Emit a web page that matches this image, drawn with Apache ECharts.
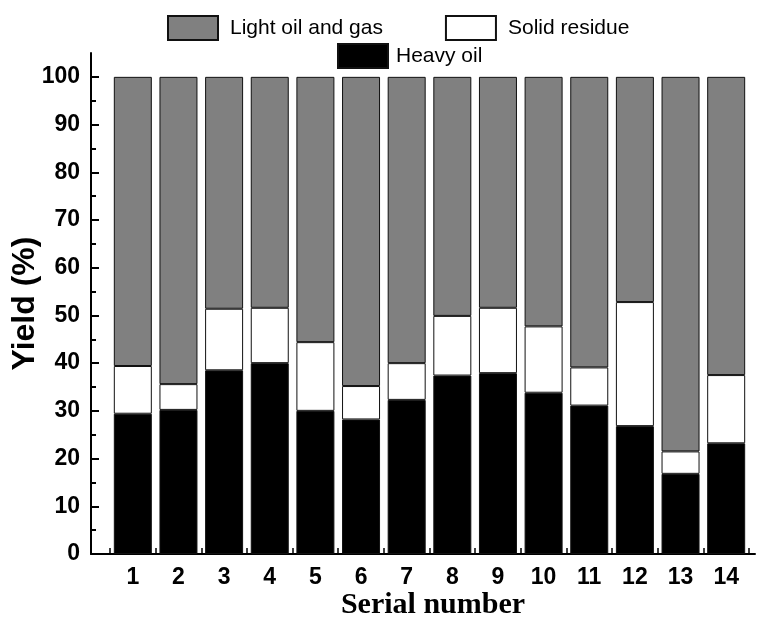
<!DOCTYPE html>
<html>
<head>
<meta charset="utf-8">
<script src="https://cdn.jsdelivr.net/npm/echarts@6/dist/echarts.min.js"></script>
<style>
  html, body { margin: 0; padding: 0; background: #fff; }
  #chart { width: 758px; height: 618px; }
</style>
</head>
<body>
<div id="chart"></div>
<script>
const serials = ['1', '2', '3', '4', '5', '6', '7', '8', '9', '10', '11', '12', '13', '14'];
const heavyOil = [29.4, 30.2, 38.5, 40.0, 30.0, 28.2, 32.3, 37.4, 37.9, 33.8, 31.1, 26.8, 16.8, 23.2];
const solidResidue = [10.0, 5.4, 12.9, 11.6, 14.4, 7.0, 7.7, 12.5, 13.7, 13.9, 8.0, 26.0, 4.7, 14.3];
const lightOilGas = [60.6, 64.4, 48.6, 48.4, 55.6, 64.8, 60.0, 50.1, 48.4, 52.3, 60.9, 47.2, 78.5, 62.5];
const yTicks = [0, 10, 20, 30, 40, 50, 60, 70, 80, 90, 100];
const yMinorTicks = [5, 15, 25, 35, 45, 55, 65, 75, 85, 95];

const chart = echarts.init(document.getElementById('chart'));

const sans = '"Liberation Sans", Arial, sans-serif';

const barSeries = (name, values, color) => ({
  name: name,
  type: 'bar',
  stack: 'yield',
  barWidth: 38,
  data: values,
  xAxisIndex: 0,
  yAxisIndex: 2,
  itemStyle: { color: color, borderColor: '#111', borderWidth: 1 },
  silent: true
});

chart.setOption({
  animation: false,
  backgroundColor: '#fff',
  grid: [
    // bars: the bands run from the first to the last inner tick
    { left: 110, right: 9, top: 53, bottom: 64, outerBoundsMode: 'none' },
    // frame: the full length of the axis line
    { left: 91, right: 3, top: 53, bottom: 64, outerBoundsMode: 'none' }
  ],
  legend: [
    {
      data: ['Light oil and gas', 'Solid residue'],
      left: 167, top: 15, padding: 0,
      icon: 'rect',
      itemWidth: 50, itemHeight: 24, itemGap: 62,
      textStyle: { fontFamily: sans, fontSize: 21, color: '#000', padding: [0, 0, 0, 7] }
    },
    {
      data: ['Heavy oil'],
      left: 337, top: 43, padding: 0,
      icon: 'rect',
      itemWidth: 50, itemHeight: 24,
      textStyle: { fontFamily: sans, fontSize: 21, color: '#000', padding: [0, 0, 0, 3] }
    }
  ],
  xAxis: [
    {
      type: 'category',
      gridIndex: 0,
      data: serials,
      axisLine: { show: false },
      axisTick: { show: true, inside: true, length: 6, lineStyle: { color: '#000', width: 1.5 } },
      axisLabel: { fontFamily: sans, fontWeight: 'bold', fontSize: 23, color: '#000', margin: 12 },
      splitLine: { show: false }
    },
    {
      type: 'value',
      gridIndex: 1,
      min: 0, max: 1,
      name: 'Serial number',
      nameLocation: 'middle',
      nameGap: 36,
      nameMoveOverlap: false,
      nameTextStyle: {
        fontFamily: '"Liberation Serif", "Times New Roman", serif', fontWeight: 'bold',
        fontSize: 30, color: '#000', padding: [0, 0, 0, 20]
      },
      axisLine: { show: true, onZero: false, lineStyle: { color: '#000', width: 2 } },
      axisTick: { show: false },
      axisLabel: { show: false },
      splitLine: { show: false }
    }
  ],
  yAxis: [
    {
      type: 'value',
      gridIndex: 1,
      min: 0, max: 105,
      name: 'Yield (%)',
      nameLocation: 'middle',
      nameGap: 50,
      nameMoveOverlap: false,
      nameTextStyle: { fontFamily: sans, fontWeight: 'bold', fontSize: 32, color: '#000' },
      axisLine: { show: true, onZero: false, lineStyle: { color: '#000', width: 2 } },
      axisTick: { inside: true, length: 8, lineStyle: { color: '#000', width: 2 }, customValues: yTicks },
      axisLabel: { customValues: yTicks, fontFamily: sans, fontWeight: 'bold', fontSize: 23, color: '#000', margin: 11 },
      splitLine: { show: false }
    },
    {
      type: 'value',
      gridIndex: 1,
      min: 0, max: 105,
      position: 'left',
      axisLine: { show: false },
      axisTick: { inside: true, length: 5, lineStyle: { color: '#000', width: 2 }, customValues: yMinorTicks },
      axisLabel: { show: false },
      splitLine: { show: false }
    },
    {
      type: 'value',
      gridIndex: 0,
      min: 0, max: 105,
      show: false
    }
  ],
  series: [
    barSeries('Heavy oil', heavyOil, '#000000'),
    barSeries('Solid residue', solidResidue, '#ffffff'),
    barSeries('Light oil and gas', lightOilGas, '#808080')
  ]
});
</script>
</body>
</html>
